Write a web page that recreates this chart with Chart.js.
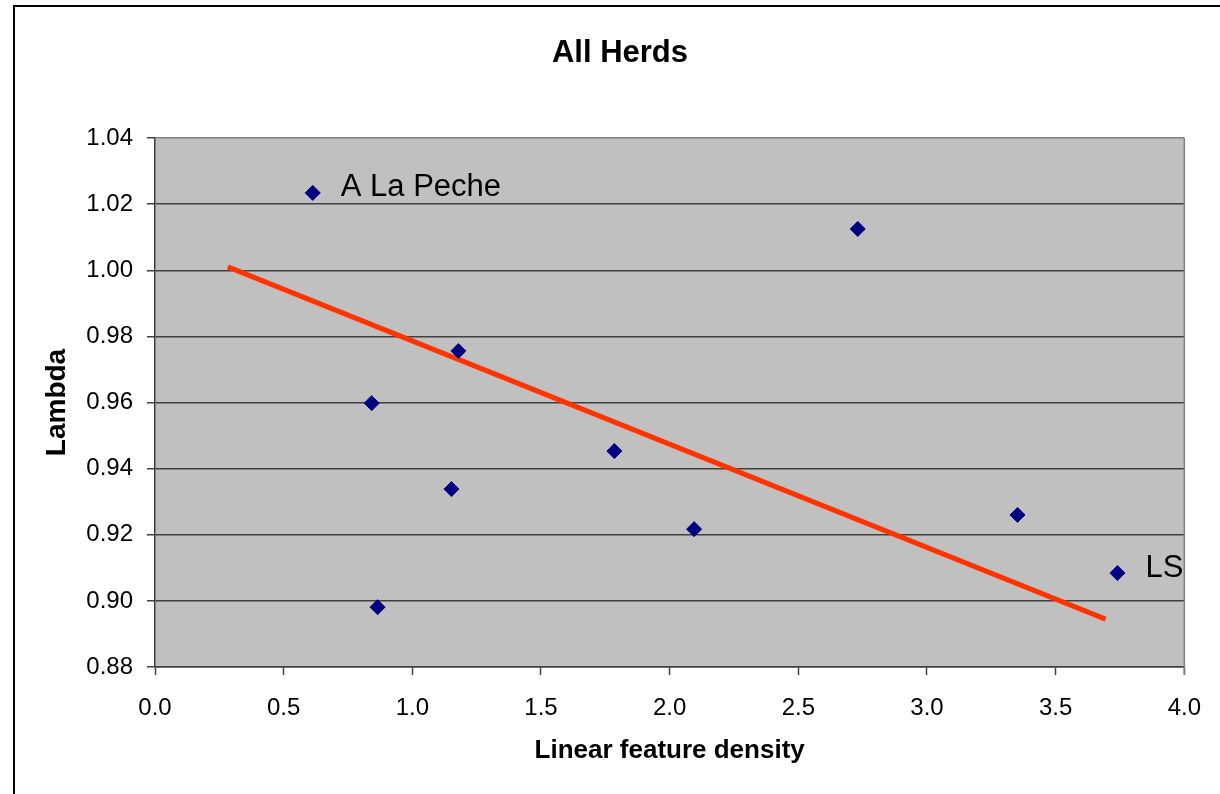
<!DOCTYPE html>
<html>
<head>
<meta charset="utf-8">
<title>All Herds</title>
<script src="https://cdn.jsdelivr.net/npm/chart.js@4"></script>
<style>
  html, body { margin: 0; padding: 0; background: #fff; }
  canvas { display: block; }
</style>
</head>
<body>
<canvas id="herds" width="1220" height="794"></canvas>
<script>
// --- DATA ---
const densityX = [0.613, 2.731, 1.179, 0.842, 1.785, 1.152, 2.095, 3.352, 3.740, 0.865];
const lambdaY  = [1.0234, 1.0125, 0.9756, 0.9598, 0.9453, 0.9338, 0.9217, 0.926, 0.9084, 0.8981];
const herdNames = ['A La Peche', '', '', '', '', '', '', '', 'LS', ''];

// fitted trend line end points
const trendX = [0.283, 3.694];
const trendY = [1.001, 0.8945];

const xTicks = { min: 0, max: 4, step: 0.5 };
const yTicks = { min: 0.88, max: 1.04, step: 0.02 };

const TITLE = 'All Herds';
const FONT = "'Liberation Sans', Arial, sans-serif";

// --- PLUGINS ---

// grey plot background, outer frame (only top and left edges show) and title
const framePlugin = {
    id: 'frame',
    beforeDraw(chart) {
        const { ctx, chartArea: a } = chart;
        ctx.save();
        ctx.fillStyle = '#fff';
        ctx.fillRect(0, 0, chart.width, chart.height);
        ctx.fillStyle = '#c0c0c0';
        ctx.fillRect(a.left, a.top, a.right - a.left, a.bottom - a.top);
        ctx.strokeStyle = '#000';
        ctx.lineWidth = 2;
        ctx.beginPath();
        ctx.moveTo(14, chart.height + 2);
        ctx.lineTo(14, 6);
        ctx.lineTo(chart.width + 2, 6);
        ctx.stroke();

        // chart title, centred on the frame
        ctx.fillStyle = '#000';
        ctx.font = `bold 31px ${FONT}`;
        ctx.textAlign = 'center';
        ctx.textBaseline = 'middle';
        ctx.fillText(TITLE, 620, 53);
        ctx.restore();
    },
    afterDatasetsDraw(chart) {
        // right edge of the plot box
        const { ctx, chartArea: a } = chart;
        ctx.save();
        ctx.strokeStyle = '#808080';
        ctx.lineWidth = 1.5;
        ctx.beginPath();
        ctx.moveTo(a.right, a.top);
        ctx.lineTo(a.right, a.bottom + 8);
        ctx.stroke();
        ctx.restore();
    }
};

// names next to a few points
const namePlugin = {
    id: 'names',
    afterDatasetsDraw(chart) {
        const { ctx } = chart;
        const meta = chart.getDatasetMeta(0);
        ctx.save();
        ctx.font = `31px ${FONT}`;
        ctx.fillStyle = '#000';
        ctx.textBaseline = 'middle';
        meta.data.forEach((pt, i) => {
            if (!herdNames[i]) return;
            ctx.fillText(herdNames[i], pt.x + 28, pt.y - 5);
        });
        ctx.restore();
    }
};

// --- CHART ---

const points = densityX.map((x, i) => ({ x, y: lambdaY[i] }));
const trend = trendX.map((x, i) => ({ x, y: trendY[i] }));

new Chart(document.getElementById('herds'), {
    type: 'scatter',
    data: {
        datasets: [
            {
                label: 'Herds',
                data: points,
                pointStyle: 'rectRot',
                pointRadius: 7.5,
                backgroundColor: '#000080',
                borderColor: '#000080',
                borderWidth: 1
            },
            {
                label: 'Trend',
                data: trend,
                showLine: true,
                borderColor: '#ff3300',
                borderWidth: 5,
                pointRadius: 0,
                fill: false
            }
        ]
    },
    options: {
        responsive: false,
        animation: false,
        layout: { padding: { left: 0, right: 32, top: 138, bottom: 0 } },
        plugins: {
            legend: { display: false },
            tooltip: { enabled: false },
            title: { display: false }
        },
        scales: {
            x: {
                type: 'linear',
                min: xTicks.min,
                max: xTicks.max,
                afterFit(scale) { scale.height = 127; },
                border: { display: true, color: '#404040', width: 1.5 },
                grid: { drawOnChartArea: false, drawTicks: true, tickLength: 8, tickColor: '#404040', tickWidth: 1.5 },
                ticks: {
                    stepSize: xTicks.step,
                    color: '#000',
                    padding: 19,
                    maxRotation: 0,
                    font: { family: FONT, size: 24 },
                    callback: v => Number(v).toFixed(1)
                },
                title: {
                    display: true,
                    text: 'Linear feature density',
                    color: '#000',
                    font: { family: FONT, size: 26, weight: 'bold', lineHeight: 1.2 },
                    padding: { top: 0, bottom: 28 }
                }
            },
            y: {
                type: 'linear',
                min: yTicks.min,
                max: yTicks.max,
                afterFit(scale) { scale.width = 155; },
                border: { display: true, color: '#404040', width: 1.5 },
                grid: {
                    color: ctx => (ctx.tick && ctx.tick.value >= yTicks.max - 1e-9) ? '#808080' : '#404040',
                    lineWidth: 1.5,
                    drawTicks: true,
                    tickLength: 8,
                    tickColor: '#404040'
                },
                ticks: {
                    stepSize: yTicks.step,
                    color: '#000',
                    padding: 14,
                    font: { family: FONT, size: 24 },
                    callback: v => Number(v).toFixed(2)
                },
                title: {
                    display: true,
                    text: 'Lambda',
                    color: '#000',
                    font: { family: FONT, size: 28, weight: 'bold', lineHeight: 1.2 },
                    padding: { top: 40, bottom: 0 }
                }
            }
        }
    },
    plugins: [framePlugin, namePlugin]
});
</script>
</body>
</html>
